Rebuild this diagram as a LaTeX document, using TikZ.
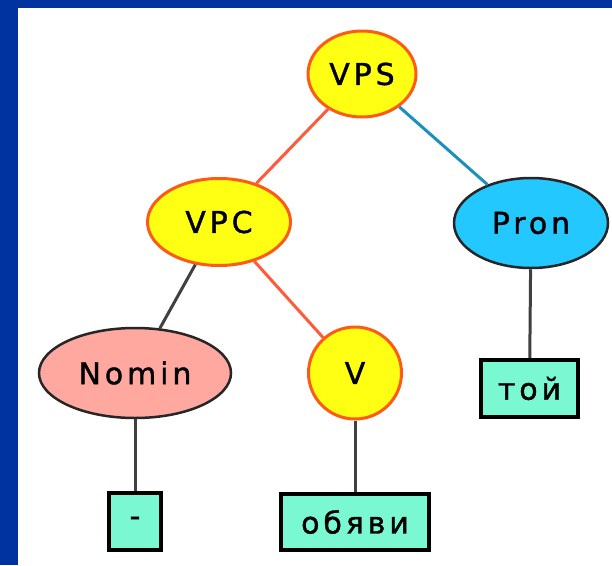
\documentclass[tikz,border=0pt]{standalone}
\usepackage{fontspec}
\newfontfamily\treefont[LetterSpace=13,FakeBold=1.2]{DejaVu Sans}
\usetikzlibrary{shapes.geometric,positioning}

\definecolor{slideblue}{RGB}{0,51,160}
\definecolor{phrasefill}{RGB}{255,255,20}
\definecolor{phraseline}{RGB}{255,90,20}
\definecolor{pronfill}{RGB}{34,200,255}
\definecolor{nominfill}{RGB}{255,168,160}
\definecolor{wordfill}{RGB}{122,248,210}
\definecolor{redlink}{RGB}{255,90,60}
\definecolor{bluelink}{RGB}{26,144,192}
\definecolor{graylink}{RGB}{64,64,64}

\begin{document}
\begin{tikzpicture}[x=1pt,y=-1pt,
    font=\treefont\fontsize{30}{36}\selectfont,
    phrase/.style={ellipse,draw=phraseline,line width=3pt,fill=phrasefill,inner sep=0pt},
    category/.style={ellipse,draw=black!85,line width=2.5pt,inner sep=0pt},
    word/.style={rectangle,draw=black,line width=4pt,fill=wordfill,inner sep=0pt},
    link/.style={line width=3pt}]
  % slide frame
  \fill[slideblue] (0,0) rectangle (612,565);
  \fill[white] (18,8) rectangle (612,565);

  % phrase nodes
  \node[phrase,minimum width=108pt,minimum height=86pt] (vps) at (362,74) {VPS};
  \node[phrase,minimum width=143pt,minimum height=87pt] (vpc) at (219,222) {VPC};
  \node[phrase,minimum width=93pt,minimum height=92pt] (v) at (355,373) {V};
  \node[category,fill=pronfill,minimum width=154pt,minimum height=90pt] (pron) at (531,223) {Pron};
  \node[category,fill=nominfill,minimum width=192pt,minimum height=90pt] (nomin) at (135,373) {Nomin};

  % word boxes
  \node[word,minimum width=97pt,minimum height=57pt] (toj) at (529.5,388.5) {той};
  \node[word,minimum width=52pt,minimum height=57pt] (dash) at (135,521.5) {-};
  \node[word,minimum width=148pt,minimum height=56pt] (objavi) at (355,522) {обяви};

  % branches
  \draw[link,redlink] (vps) -- (vpc);
  \draw[link,bluelink] (vps) -- (pron);
  \draw[link,graylink] (vpc) -- (nomin);
  \draw[link,redlink] (vpc) -- (v);
  \draw[link,graylink] (pron) -- (toj);
  \draw[link,graylink] (nomin) -- (dash);
  \draw[link,graylink] (v) -- (objavi);
\end{tikzpicture}
\end{document}
